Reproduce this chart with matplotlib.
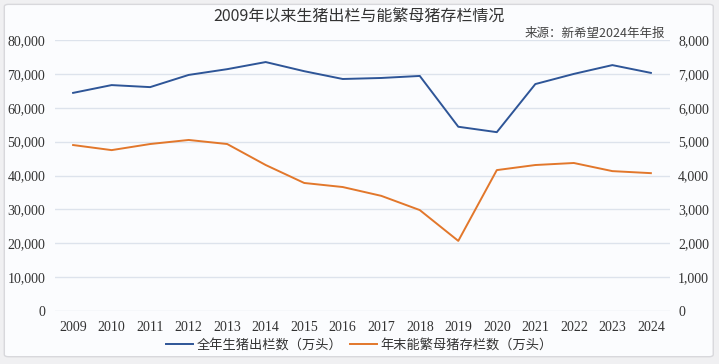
import matplotlib.pyplot as plt
from matplotlib.patches import FancyBboxPatch
from matplotlib.ticker import FuncFormatter

years = ['2009', '2010', '2011', '2012', '2013', '2014', '2015', '2016',
         '2017', '2018', '2019', '2020', '2021', '2022', '2023', '2024']
# 全年生猪出栏数（万头）- left axis
slaughter = [64400, 66700, 66100, 69700, 71400, 73500, 70800, 68500,
             68800, 69400, 54400, 52800, 67000, 70000, 72600, 70300]
# 年末能繁母猪存栏数（万头）- right axis
sows = [4900, 4750, 4930, 5050, 4930, 4310, 3780, 3660,
        3400, 2980, 2070, 4160, 4310, 4370, 4130, 4070]

plt.rcParams['font.family'] = ['Noto Sans CJK SC', 'DejaVu Sans']

fig = plt.figure(figsize=(7.19, 3.64), dpi=100)
fig.patch.set_facecolor('#f0f0f2')
frame = FancyBboxPatch((0.006, 0.02), 0.986, 0.968, boxstyle='round,pad=0,rounding_size=0.006',
                       transform=fig.transFigure, facecolor='#fbfcfe', edgecolor='#d8d8dc',
                       linewidth=1.0, zorder=-10)
fig.add_artist(frame)

ax = fig.add_axes([0.0765, 0.1456, 0.855, 0.7444])
ax.set_facecolor('none')
ax2 = ax.twinx()

x = list(range(len(years)))
ax.plot(x, slaughter, color='#2e5597', linewidth=1.4, label='全年生猪出栏数（万头）')
ax2.plot(x, sows, color='#e2772b', linewidth=1.4, label='年末能繁母猪存栏数（万头）')

ax.set_xlim(-0.47, 15.49)
ax.set_ylim(0, 80000)
ax2.set_ylim(0, 8000)
ax.set_yticks(range(0, 80001, 10000))
ax2.set_yticks(range(0, 8001, 1000))
fmt = FuncFormatter(lambda v, p: f'{int(v):,}')
ax.yaxis.set_major_formatter(fmt)
ax2.yaxis.set_major_formatter(fmt)
ax.set_xticks(x)
ax.set_xticklabels(years)

ax.grid(axis='y', color='#dde3ec', linewidth=1.0)
ax.set_axisbelow(True)
for a in (ax, ax2):
    for s in a.spines.values():
        s.set_visible(False)
    a.tick_params(length=0, labelsize=10, colors='#333333',
                  labelfontfamily='Liberation Serif')
ax.tick_params(axis='y', pad=7)
ax2.tick_params(axis='y', pad=6)
ax.tick_params(axis='x', pad=7)

fig.text(0.5, 0.952, '2009年以来生猪出栏与能繁母猪存栏情况', ha='center', va='center',
         fontsize=11.5, color='#333333')
fig.text(0.925, 0.908, '来源：新希望2024年年报', ha='right', va='center',
         fontsize=9, color='#444444')

h1, l1 = ax.get_legend_handles_labels()
h2, l2 = ax2.get_legend_handles_labels()
fig.legend(h1 + h2, l1 + l2, loc='center', bbox_to_anchor=(0.5, 0.052), ncol=2,
           frameon=False, fontsize=9.5, handlelength=2.0, columnspacing=0.6,
           handletextpad=0.3, labelcolor='#333333')

fig.savefig('out.png', dpi=100, facecolor=fig.get_facecolor())
